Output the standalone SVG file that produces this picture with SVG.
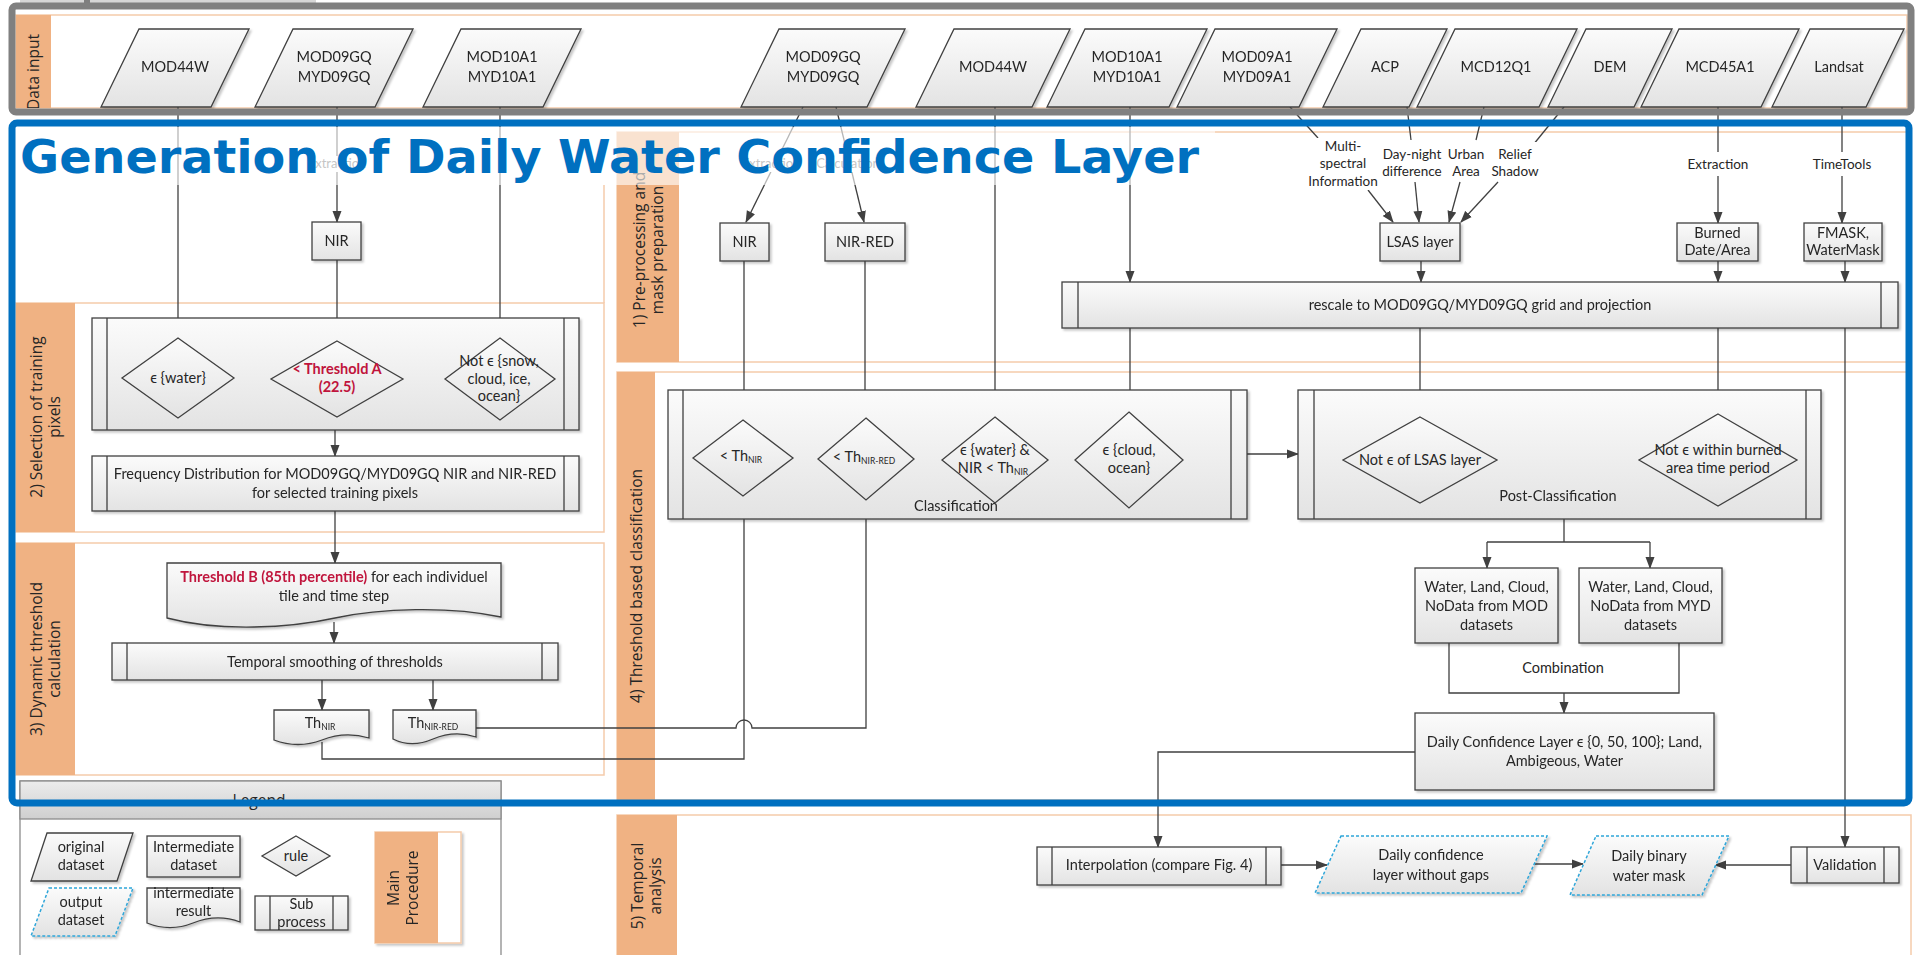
<svg xmlns="http://www.w3.org/2000/svg" width="1918" height="955" viewBox="0 0 1918 955">
<style>
.n{fill:url(#gr);stroke:#404040;stroke-width:1.3}
.o{fill:url(#gr);stroke:#2fa6d9;stroke-width:1.5;stroke-dasharray:3 2}
.c{fill:none;stroke:#404040;stroke-width:1.3}
.ca{fill:none;stroke:#404040;stroke-width:1.3;marker-end:url(#ah)}
.cs{fill:none;stroke:#404040;stroke-width:1.2;marker-end:url(#as)}
.t{font-family:Lato,"Liberation Sans",sans-serif;font-size:14.5px;fill:#262626;text-anchor:middle}
.sm{font-size:13.5px}
.r{fill:#c0143c;font-weight:bold}
.s{font-size:8.5px}
.lane{fill:#fff;stroke:#f5cbab;stroke-width:1.5}
.lab{fill:#f0b283}
.lt{font-family:"Open Sans","DejaVu Sans",sans-serif;font-size:15.5px;fill:#262626;text-anchor:middle}
.bg{fill:#fff}
.fd{font-family:Lato,"Liberation Sans",sans-serif;font-size:13px;fill:#666;text-anchor:middle}
.sh{filter:url(#sd)}
</style>
<defs>
<linearGradient id="gr" x1="0" y1="0" x2="0" y2="1"><stop offset="0" stop-color="#fbfbfb"/><stop offset="1" stop-color="#e3e3e3"/></linearGradient>
<linearGradient id="hd" x1="0" y1="0" x2="0" y2="1"><stop offset="0" stop-color="#ececec"/><stop offset="1" stop-color="#cfcfcf"/></linearGradient>
<marker id="ah" viewBox="0 0 12 10" refX="11" refY="5" markerWidth="12" markerHeight="10" markerUnits="userSpaceOnUse" orient="auto"><path d="M0,0.5 L12,5 L0,9.5 Z" fill="#404040"/></marker>
<marker id="as" viewBox="0 0 7 6" refX="7" refY="3" markerWidth="7" markerHeight="6" markerUnits="userSpaceOnUse" orient="auto"><path d="M0,0 L7,3 L0,6 Z" fill="#404040"/></marker>
<filter id="sd" x="-10%" y="-10%" width="120%" height="130%"><feDropShadow dx="2" dy="2" stdDeviation="1.2" flood-color="#000" flood-opacity="0.22"/></filter>
<clipPath id="dclip"><rect x="16" y="15" width="36" height="93"/></clipPath>
</defs>

<rect width="1918" height="955" fill="#fff"/>

<!-- swim lanes -->
<g id="lanes">
  <rect id="lane-input" class="lane" x="16" y="15" width="1891" height="93"/>
  <rect class="lab" x="16" y="15" width="35" height="93"/>
  <g clip-path="url(#dclip)"><text class="lt" transform="translate(33,72) rotate(-90)" y="5.5">Data input</text></g>

  <rect id="lane-1" class="lane" x="617" y="132" width="1292" height="230"/>
  <rect class="lab" x="617" y="132" width="62" height="230"/>
  <text class="lt" transform="translate(648,250) rotate(-90)"><tspan x="0" y="-3.5">1) Pre-processing and</tspan><tspan x="0" y="15">mask preparation</tspan></text>

  <line x1="604" y1="185" x2="604" y2="303" stroke="#f5cbab" stroke-width="1.5"/>
  <rect id="lane-2" class="lane" x="16" y="303" width="588" height="229"/>
  <rect class="lab" x="16" y="303" width="59" height="229"/>
  <text class="lt" transform="translate(45,417) rotate(-90)"><tspan x="0" y="-3.5">2) Selection of training</tspan><tspan x="0" y="15">pixels</tspan></text>

  <rect id="lane-3" class="lane" x="16" y="543" width="588" height="232"/>
  <rect class="lab" x="16" y="543" width="59" height="232"/>
  <text class="lt" transform="translate(45,659) rotate(-90)"><tspan x="0" y="-3.5">3) Dynamic threshold</tspan><tspan x="0" y="15">calculation</tspan></text>

  <rect id="lane-4" class="lane" x="617" y="372" width="1292" height="428"/>
  <rect class="lab" x="617" y="372" width="38" height="428"/>
  <text class="lt" transform="translate(636,586) rotate(-90)" y="5.5">4) Threshold based classification</text>

  <rect id="lane-5" class="lane" x="617" y="815" width="1294" height="150"/>
  <rect class="lab" x="617" y="815" width="60" height="150"/>
  <text class="lt" transform="translate(646,886) rotate(-90)"><tspan x="0" y="-3.5">5) Temporal</tspan><tspan x="0" y="15">analysis</tspan></text>
</g>

<!-- connectors -->
<g id="connectors">
  <path class="ca" d="M178,107 V338"/>
  <path class="ca" d="M337,107 V222"/>
  <path class="ca" d="M337,260 V341"/>
  <path class="ca" d="M500,107 V338"/>
  <path class="ca" d="M234,378 H271"/>
  <path class="ca" d="M403,379 H445"/>
  <path class="ca" d="M335,430 V456"/>
  <path class="ca" d="M335,511 V563"/>
  <path class="ca" d="M334,622 V643"/>
  <path class="ca" d="M322,680 V710"/>
  <path class="ca" d="M433,680 V710"/>
  <path class="ca" d="M322,742 V759 H744 V497"/>
  <path class="ca" d="M476,728 H736 A8,8 0 0 1 752,728 H866 V501"/>

  <path class="ca" d="M803,107 L746,222"/>
  <path class="ca" d="M836,107 L864,222"/>
  <path class="ca" d="M744,261 V420"/>
  <path class="ca" d="M865,261 V418"/>
  <path class="ca" d="M995,107 V417"/>
  <path class="ca" d="M1130,107 V282"/>

  <path class="c" d="M1290,107 L1318,138"/>
  <path class="ca" d="M1368,190 L1393,222"/>
  <path class="c" d="M1407,107 L1411,140"/>
  <path class="ca" d="M1415,182 L1419,222"/>
  <path class="c" d="M1484,107 L1476,140"/>
  <path class="ca" d="M1460,182 L1449,222"/>
  <path class="c" d="M1564,107 L1533,145"/>
  <path class="ca" d="M1498,182 L1461,222"/>
  <path class="ca" d="M1421,261 V282"/>
  <path class="c" d="M1718,107 V152"/>
  <path class="ca" d="M1718,176 V223"/>
  <path class="ca" d="M1718,261 V282"/>
  <path class="c" d="M1842,107 V152"/>
  <path class="ca" d="M1842,176 V223"/>
  <path class="ca" d="M1845,261 V282"/>

  <path class="ca" d="M1130,328 V412"/>
  <path class="ca" d="M1420,328 V417"/>
  <path class="ca" d="M1718,328 V414"/>
  <path class="ca" d="M1845,328 V847"/>

  <path class="cs" d="M793,458 H818"/>
  <path class="cs" d="M914,459 H944"/>
  <path class="ca" d="M1048,460 H1075"/>
  <path class="ca" d="M1247,454 H1298"/>
  <path class="ca" d="M1497,460 H1639"/>
  <path class="c" d="M1564,519 V542 M1487,542 H1650"/>
  <path class="ca" d="M1487,542 V568"/>
  <path class="ca" d="M1650,542 V568"/>
  <path class="c" d="M1449,643 V693 H1679 V643"/>
  <path class="ca" d="M1564,693 V713"/>
  <path class="ca" d="M1415,752 H1158 V847"/>

  <path class="ca" d="M1281,865 H1327"/>
  <path class="ca" d="M1535,864 H1583"/>
  <path class="ca" d="M1791,865 H1715"/>

  <!-- connector labels -->
  <rect class="bg" x="797" y="451" width="12" height="14"/>
  <text class="t" x="803" y="463" font-size="13">&amp;</text>
  <rect class="bg" x="918" y="452" width="19" height="14"/>
  <text class="t" x="927" y="464" font-size="13">OR</text>

  <rect class="bg" x="1308" y="138" width="70" height="52"/>
  <text class="t sm"><tspan x="1343" y="151">Multi-</tspan><tspan x="1343" y="168">spectral</tspan><tspan x="1343" y="186">Information</tspan></text>
  <rect class="bg" x="1384" y="142" width="58" height="38"/>
  <text class="t sm"><tspan x="1412" y="159">Day-night</tspan><tspan x="1412" y="176">difference</tspan></text>
  <rect class="bg" x="1449" y="142" width="34" height="38"/>
  <text class="t sm"><tspan x="1466" y="159">Urban</tspan><tspan x="1466" y="176">Area</tspan></text>
  <rect class="bg" x="1492" y="142" width="46" height="38"/>
  <text class="t sm"><tspan x="1515" y="159">Relief</tspan><tspan x="1515" y="176">Shadow</tspan></text>
  <rect class="bg" x="1688" y="152" width="60" height="24"/>
  <text class="t sm" x="1718" y="169">Extraction</text>
  <rect class="bg" x="1812" y="152" width="60" height="24"/>
  <text class="t sm" x="1842" y="169">TimeTools</text>

  <rect class="bg" x="307" y="156" width="60" height="16"/>
  <text class="fd" x="337" y="168">Extraction</text>
  <rect class="bg" x="742" y="156" width="58" height="16"/>
  <text class="fd" x="771" y="168">Extraction</text>
  <rect class="bg" x="816" y="156" width="64" height="16"/>
  <text class="fd" x="848" y="168">Calculation</text>
</g>

<!-- data input nodes -->
<g id="in-mod44w-a" class="sh"><polygon class="n" points="139,29 249,29 211,107 101,107"/><text class="t" x="175" y="72">MOD44W</text></g>
<g id="in-mod09gq-a" class="sh"><polygon class="n" points="293,29 413,29 375,107 255,107"/><text class="t"><tspan x="334" y="62">MOD09GQ</tspan><tspan x="334" y="82">MYD09GQ</tspan></text></g>
<g id="in-mod10a1-a" class="sh"><polygon class="n" points="461,29 581,29 543,107 423,107"/><text class="t"><tspan x="502" y="62">MOD10A1</tspan><tspan x="502" y="82">MYD10A1</tspan></text></g>
<g id="in-mod09gq-b" class="sh"><polygon class="n" points="779,29 905,29 867,107 741,107"/><text class="t"><tspan x="823" y="62">MOD09GQ</tspan><tspan x="823" y="82">MYD09GQ</tspan></text></g>
<g id="in-mod44w-b" class="sh"><polygon class="n" points="954,29 1070,29 1032,107 916,107"/><text class="t" x="993" y="72">MOD44W</text></g>
<g id="in-mod10a1-b" class="sh"><polygon class="n" points="1085,29 1207,29 1169,107 1047,107"/><text class="t"><tspan x="1127" y="62">MOD10A1</tspan><tspan x="1127" y="82">MYD10A1</tspan></text></g>
<g id="in-mod09a1" class="sh"><polygon class="n" points="1215,29 1337,29 1299,107 1177,107"/><text class="t"><tspan x="1257" y="62">MOD09A1</tspan><tspan x="1257" y="82">MYD09A1</tspan></text></g>
<g id="in-acp" class="sh"><polygon class="n" points="1361,29 1447,29 1409,107 1323,107"/><text class="t" x="1385" y="72">ACP</text></g>
<g id="in-mcd12q1" class="sh"><polygon class="n" points="1455,29 1577,29 1539,107 1417,107"/><text class="t" x="1496" y="72">MCD12Q1</text></g>
<g id="in-dem" class="sh"><polygon class="n" points="1586,29 1672,29 1634,107 1548,107"/><text class="t" x="1610" y="72">DEM</text></g>
<g id="in-mcd45a1" class="sh"><polygon class="n" points="1679,29 1799,29 1761,107 1641,107"/><text class="t" x="1720" y="72">MCD45A1</text></g>
<g id="in-landsat" class="sh"><polygon class="n" points="1810,29 1904,29 1866,107 1772,107"/><text class="t" x="1839" y="72">Landsat</text></g>

<!-- training pixel selection -->
<g id="nir-a" class="sh"><rect class="n" x="312" y="222" width="49" height="38"/><text class="t" x="336.5" y="246">NIR</text></g>
<g id="select-training" class="sh"><rect class="n" x="92" y="318" width="487" height="112"/><path class="c" d="M107,318 V430 M564,318 V430"/></g>
<g id="rule-water"><polygon class="n" points="178,338 234,378 178,418 122,378"/><text class="t" x="178" y="383">ϵ {water}</text></g>
<g id="rule-threshold-a"><polygon class="n" points="337,341 403,379 337,417 271,379"/><text class="t r"><tspan x="337" y="374">&lt; Threshold A</tspan><tspan x="337" y="392">(22.5)</tspan></text></g>
<g id="rule-not-snow"><polygon class="n" points="500,338 555,379 500,420 445,379"/><text class="t"><tspan x="499" y="366">Not ϵ {snow,</tspan><tspan x="499" y="384">cloud, ice,</tspan><tspan x="499" y="401">ocean}</tspan></text></g>
<g id="freq-dist" class="sh"><rect class="n" x="92" y="456" width="487" height="55"/><path class="c" d="M107,456 V511 M564,456 V511"/><text class="t"><tspan x="335" y="479">Frequency Distribution for MOD09GQ/MYD09GQ NIR and NIR-RED</tspan><tspan x="335" y="498">for selected training pixels</tspan></text></g>

<!-- dynamic threshold -->
<g id="threshold-b" class="sh"><path class="n" d="M167,563 H501 V617 C450,606 380,608 335,618 C290,628 220,632 167,618 Z"/><text class="t"><tspan x="334" y="582"><tspan class="r">Threshold B (85th percentile)</tspan> for each individuel</tspan><tspan x="334" y="601">tile and time step</tspan></text></g>
<g id="temporal-smoothing" class="sh"><rect class="n" x="112" y="643" width="446" height="37"/><path class="c" d="M127,643 V680 M542,643 V680"/><text class="t" x="335" y="667">Temporal smoothing of thresholds</text></g>
<g id="th-nir" class="sh"><path class="n" d="M274,710 H369 V738 C352,733 337,734 322,740 C306,746 290,746 274,740 Z"/><text class="t" x="320" y="728">Th<tspan class="s" dy="2">NIR</tspan></text></g>
<g id="th-nir-red" class="sh"><path class="n" d="M393,710 H476 V737 C461,732 447,733 433,739 C419,745 405,745 393,739 Z"/><text class="t" x="433" y="728">Th<tspan class="s" dy="2">NIR-RED</tspan></text></g>

<!-- pre-processing -->
<g id="nir-b" class="sh"><rect class="n" x="720" y="223" width="49" height="38"/><text class="t" x="744.5" y="247">NIR</text></g>
<g id="nir-red" class="sh"><rect class="n" x="825" y="223" width="80" height="38"/><text class="t" x="865" y="247">NIR-RED</text></g>
<g id="lsas" class="sh"><rect class="n" x="1380" y="223" width="80" height="38"/><text class="t" x="1420" y="247">LSAS layer</text></g>
<g id="burned" class="sh"><rect class="n" x="1677" y="223" width="81" height="38"/><text class="t"><tspan x="1717.5" y="238">Burned</tspan><tspan x="1717.5" y="255">Date/Area</tspan></text></g>
<g id="fmask" class="sh"><rect class="n" x="1804" y="223" width="78" height="38"/><text class="t"><tspan x="1843" y="238">FMASK,</tspan><tspan x="1843" y="255">WaterMask</tspan></text></g>
<g id="rescale" class="sh"><rect class="n" x="1062" y="282" width="836" height="46"/><path class="c" d="M1078,282 V328 M1881,282 V328"/><text class="t" x="1480" y="310">rescale to MOD09GQ/MYD09GQ  grid and projection</text></g>

<!-- classification -->
<g id="classification" class="sh"><rect class="n" x="668" y="390" width="579" height="129"/><path class="c" d="M683,390 V519 M1231,390 V519"/><text class="t" x="956" y="511">Classification</text></g>
<g id="rule-th-nir"><polygon class="n" points="743,420 793,458 743,496 693,458"/><text class="t" x="741" y="461">&lt; Th<tspan class="s" dy="2">NIR</tspan></text></g>
<g id="rule-th-nir-red"><polygon class="n" points="866,418 914,459 866,500 818,459"/><text class="t" x="864" y="462">&lt; Th<tspan class="s" dy="2">NIR-RED</tspan></text></g>
<g id="rule-water-nir"><polygon class="n" points="995,417 1048,460 995,503 942,460"/><text class="t"><tspan x="995" y="455">ϵ {water} &amp;</tspan><tspan x="993" y="473">NIR &lt; Th<tspan class="s" dy="2">NIR</tspan></tspan></text></g>
<g id="rule-cloud"><polygon class="n" points="1129,412 1183,460 1129,508 1075,460"/><text class="t"><tspan x="1129" y="455">ϵ {cloud,</tspan><tspan x="1129" y="473">ocean}</tspan></text></g>

<!-- post-classification -->
<g id="post-classification" class="sh"><rect class="n" x="1298" y="390" width="523" height="129"/><path class="c" d="M1314,390 V519 M1806,390 V519"/><text class="t" x="1558" y="501">Post-Classification</text></g>
<g id="rule-lsas"><polygon class="n" points="1420,417 1497,460 1420,503 1343,460"/><text class="t" x="1420" y="465">Not ϵ of LSAS layer</text></g>
<g id="rule-burned"><polygon class="n" points="1718,414 1797,460 1718,506 1639,460"/><text class="t"><tspan x="1718" y="455">Not ϵ within burned</tspan><tspan x="1718" y="473">area time period</tspan></text></g>
<g id="result-mod" class="sh"><rect class="n" x="1415" y="568" width="143" height="75"/><text class="t"><tspan x="1486.5" y="592">Water, Land, Cloud,</tspan><tspan x="1486.5" y="611">NoData from MOD</tspan><tspan x="1486.5" y="630">datasets</tspan></text></g>
<g id="result-myd" class="sh"><rect class="n" x="1579" y="568" width="143" height="75"/><text class="t"><tspan x="1650.5" y="592">Water, Land, Cloud,</tspan><tspan x="1650.5" y="611">NoData from MYD</tspan><tspan x="1650.5" y="630">datasets</tspan></text></g>
<text class="t" x="1563" y="673">Combination</text>
<g id="daily-confidence" class="sh"><rect class="n" x="1415" y="713" width="299" height="77"/><text class="t"><tspan x="1564.5" y="747">Daily Confidence Layer ϵ {0, 50, 100}; Land,</tspan><tspan x="1564.5" y="766">Ambigeous, Water</tspan></text></g>

<!-- temporal analysis -->
<g id="interpolation" class="sh"><rect class="n" x="1037" y="847" width="244" height="38"/><path class="c" d="M1052,847 V885 M1266,847 V885"/><text class="t" x="1159" y="870">Interpolation (compare Fig. 4)</text></g>
<g id="out-gapless" class="sh"><polygon class="o" points="1341,836 1547,836 1521,893 1315,893"/><text class="t"><tspan x="1431" y="860">Daily confidence</tspan><tspan x="1431" y="880">layer without gaps</tspan></text></g>
<g id="out-watermask" class="sh"><polygon class="o" points="1596,836 1729,836 1702,895 1570,895"/><text class="t"><tspan x="1649" y="861">Daily binary</tspan><tspan x="1649" y="881">water mask</tspan></text></g>
<g id="validation" class="sh"><rect class="n" x="1791" y="847" width="108" height="36"/><path class="c" d="M1807,847 V883 M1884,847 V883"/><text class="t" x="1845" y="870">Validation</text></g>

<!-- faded band behind the heading -->
<rect x="16" y="127" width="1199" height="58" fill="#fff" opacity="0.62"/>
<text x="20" y="173" font-family="'DejaVu Sans',Verdana,sans-serif" font-weight="bold" font-size="47" fill="#0070c0" textLength="1179" lengthAdjust="spacingAndGlyphs">Generation of Daily Water Confidence Layer</text>

<!-- legend -->
<g id="legend">
  <rect x="20" y="781" width="481" height="180" fill="#fff" stroke="#8c8c8c" stroke-width="1.3"/>
  <rect x="20" y="781" width="481" height="38" fill="url(#hd)" stroke="#8c8c8c" stroke-width="1.3"/>
  <text class="lt" x="259" y="806" font-size="16">Legend</text>
  <g id="lg-original" class="sh"><polygon class="n" points="47,833 133,833 117,881 31,881"/><text class="t"><tspan x="81" y="852">original</tspan><tspan x="81" y="870">dataset</tspan></text></g>
  <g id="lg-intermediate" class="sh"><rect class="n" x="147" y="836" width="93" height="41"/><text class="t"><tspan x="193.5" y="852">Intermediate</tspan><tspan x="193.5" y="870">dataset</tspan></text></g>
  <g id="lg-rule"><polygon class="n" points="296,836 330,856 296,876 262,856"/><text class="t" x="296" y="861">rule</text></g>
  <g id="lg-output" class="sh"><polygon class="o" points="49,888 133,888 115,936 31,936"/><text class="t"><tspan x="81" y="907">output</tspan><tspan x="81" y="925">dataset</tspan></text></g>
  <g id="lg-result" class="sh"><path class="n" d="M147,888 H240 V922 C224,916 208,917 193,923 C178,929 162,929 147,923 Z"/><text class="t"><tspan x="193.5" y="898">intermediate</tspan><tspan x="193.5" y="916">result</tspan></text></g>
  <g id="lg-sub" class="sh"><rect class="n" x="255" y="896" width="93" height="34"/><path class="c" d="M270,896 V930 M333,896 V930"/><text class="t"><tspan x="301.5" y="909">Sub</tspan><tspan x="301.5" y="927">process</tspan></text></g>
  <g id="lg-main" class="sh"><rect x="375" y="832" width="86" height="111" fill="#fff" stroke="#f5cbab" stroke-width="1.5"/><rect class="lab" x="375" y="832" width="63" height="111"/><text class="lt" transform="translate(405,888) rotate(-90)"><tspan x="0" y="-6">Main</tspan><tspan x="0" y="13">Procedure</tspan></text></g>
</g>

<!-- frames -->
<rect x="20" y="0" width="296" height="5" fill="#d6d6d6"/>
<rect x="84" y="0" width="6" height="8" fill="#7f7f7f"/>
<rect x="12" y="6" width="1899" height="106" rx="4" fill="none" stroke="#808080" stroke-width="7"/>
<rect x="12" y="123" width="1897" height="680" rx="5" fill="none" stroke="#0070c0" stroke-width="7"/>
</svg>
